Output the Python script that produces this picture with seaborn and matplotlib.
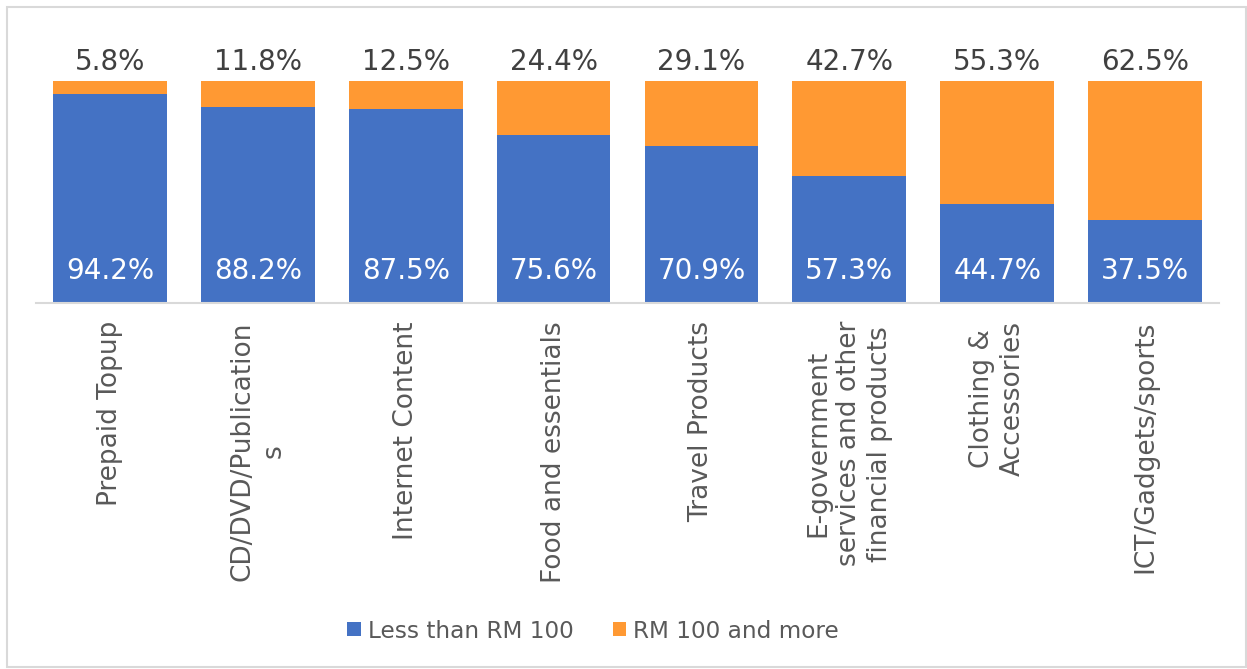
import matplotlib
matplotlib.use("Agg")
import matplotlib.pyplot as plt
from matplotlib.patches import Patch, Rectangle
import seaborn as sns
import pandas as pd

categories = [
    "Prepaid Topup",
    "CD/DVD/Publication\ns",
    "Internet Content",
    "Food and essentials",
    "Travel Products",
    "E-government\nservices and other\nfinancial products",
    "Clothing &\nAccessories",
    "ICT/Gadgets/sports",
]
less_than_100 = [94.2, 88.2, 87.5, 75.6, 70.9, 57.3, 44.7, 37.5]
over_100 = [5.8, 11.8, 12.5, 24.4, 29.1, 42.7, 55.3, 62.5]
series_names = ["Less than RM 100", "RM 100 and more"]

BLUE = "#4472C4"
ORANGE = "#FF9933"
LABEL_GREY = "#595959"

sns.set_theme(style="white")
plt.rcParams["font.family"] = ["DejaVu Sans"]

df = pd.DataFrame({
    "category": categories,
    "low": less_than_100,
    "high": over_100,
})
df["total"] = df["low"] + df["high"]

fig = plt.figure(figsize=(12.47, 6.69), dpi=100)
ax = fig.add_axes([36 / 1247, 1 - 303 / 669, (1219 - 36) / 1247, 222 / 669])

# stacked bars: full height in orange, lower segment in blue on top of it
sns.barplot(data=df, x="category", y="total", color=ORANGE, width=0.77,
            saturation=1, ax=ax, linewidth=0)
sns.barplot(data=df, x="category", y="low", color=BLUE, width=0.77,
            saturation=1, ax=ax, linewidth=0)

ax.set_xlim(-0.5, 7.5)
ax.set_ylim(0, 100)
ax.set_xlabel("")
ax.set_ylabel("")
ax.set_yticks([])
for side in ["top", "left", "right"]:
    ax.spines[side].set_visible(False)
ax.spines["bottom"].set_color("#D9D9D9")
ax.spines["bottom"].set_linewidth(1.5)

ax.tick_params(axis="x", length=0, pad=13)
ax.set_xticks(range(len(categories)))
ax.set_xticklabels(categories, rotation=90, fontsize=19, color=LABEL_GREY,
                   ha="center", va="top", multialignment="center",
                   linespacing=1.25)

for i, (lo, hi) in enumerate(zip(less_than_100, over_100)):
    ax.text(i, 14.2, f"{lo:.1f}%", ha="center", va="center",
            fontsize=20, color="white")
    ax.annotate(f"{hi:.1f}%", xy=(i, lo + hi), xytext=(0, 14),
                textcoords="offset points", ha="center", va="center",
                fontsize=20, color="#404040", annotation_clip=False)

handles = [Patch(facecolor=BLUE, edgecolor="none"),
           Patch(facecolor=ORANGE, edgecolor="none")]
fig.legend(handles, series_names, loc="center", bbox_to_anchor=(593 / 1247, 1 - 631 / 669),
           ncol=2, frameon=False, fontsize=16.7, labelcolor=LABEL_GREY,
           handlelength=0.57, handleheight=0.57, handletextpad=0.3,
           columnspacing=1.7)

# light frame around the whole chart area
fig.patches.append(Rectangle((7 / 1247, 2 / 669), 1239 / 1247, 660 / 669,
                             transform=fig.transFigure, fill=False,
                             edgecolor="#D9D9D9", linewidth=1.5))

fig.savefig("out.png", dpi=100, facecolor="white")
